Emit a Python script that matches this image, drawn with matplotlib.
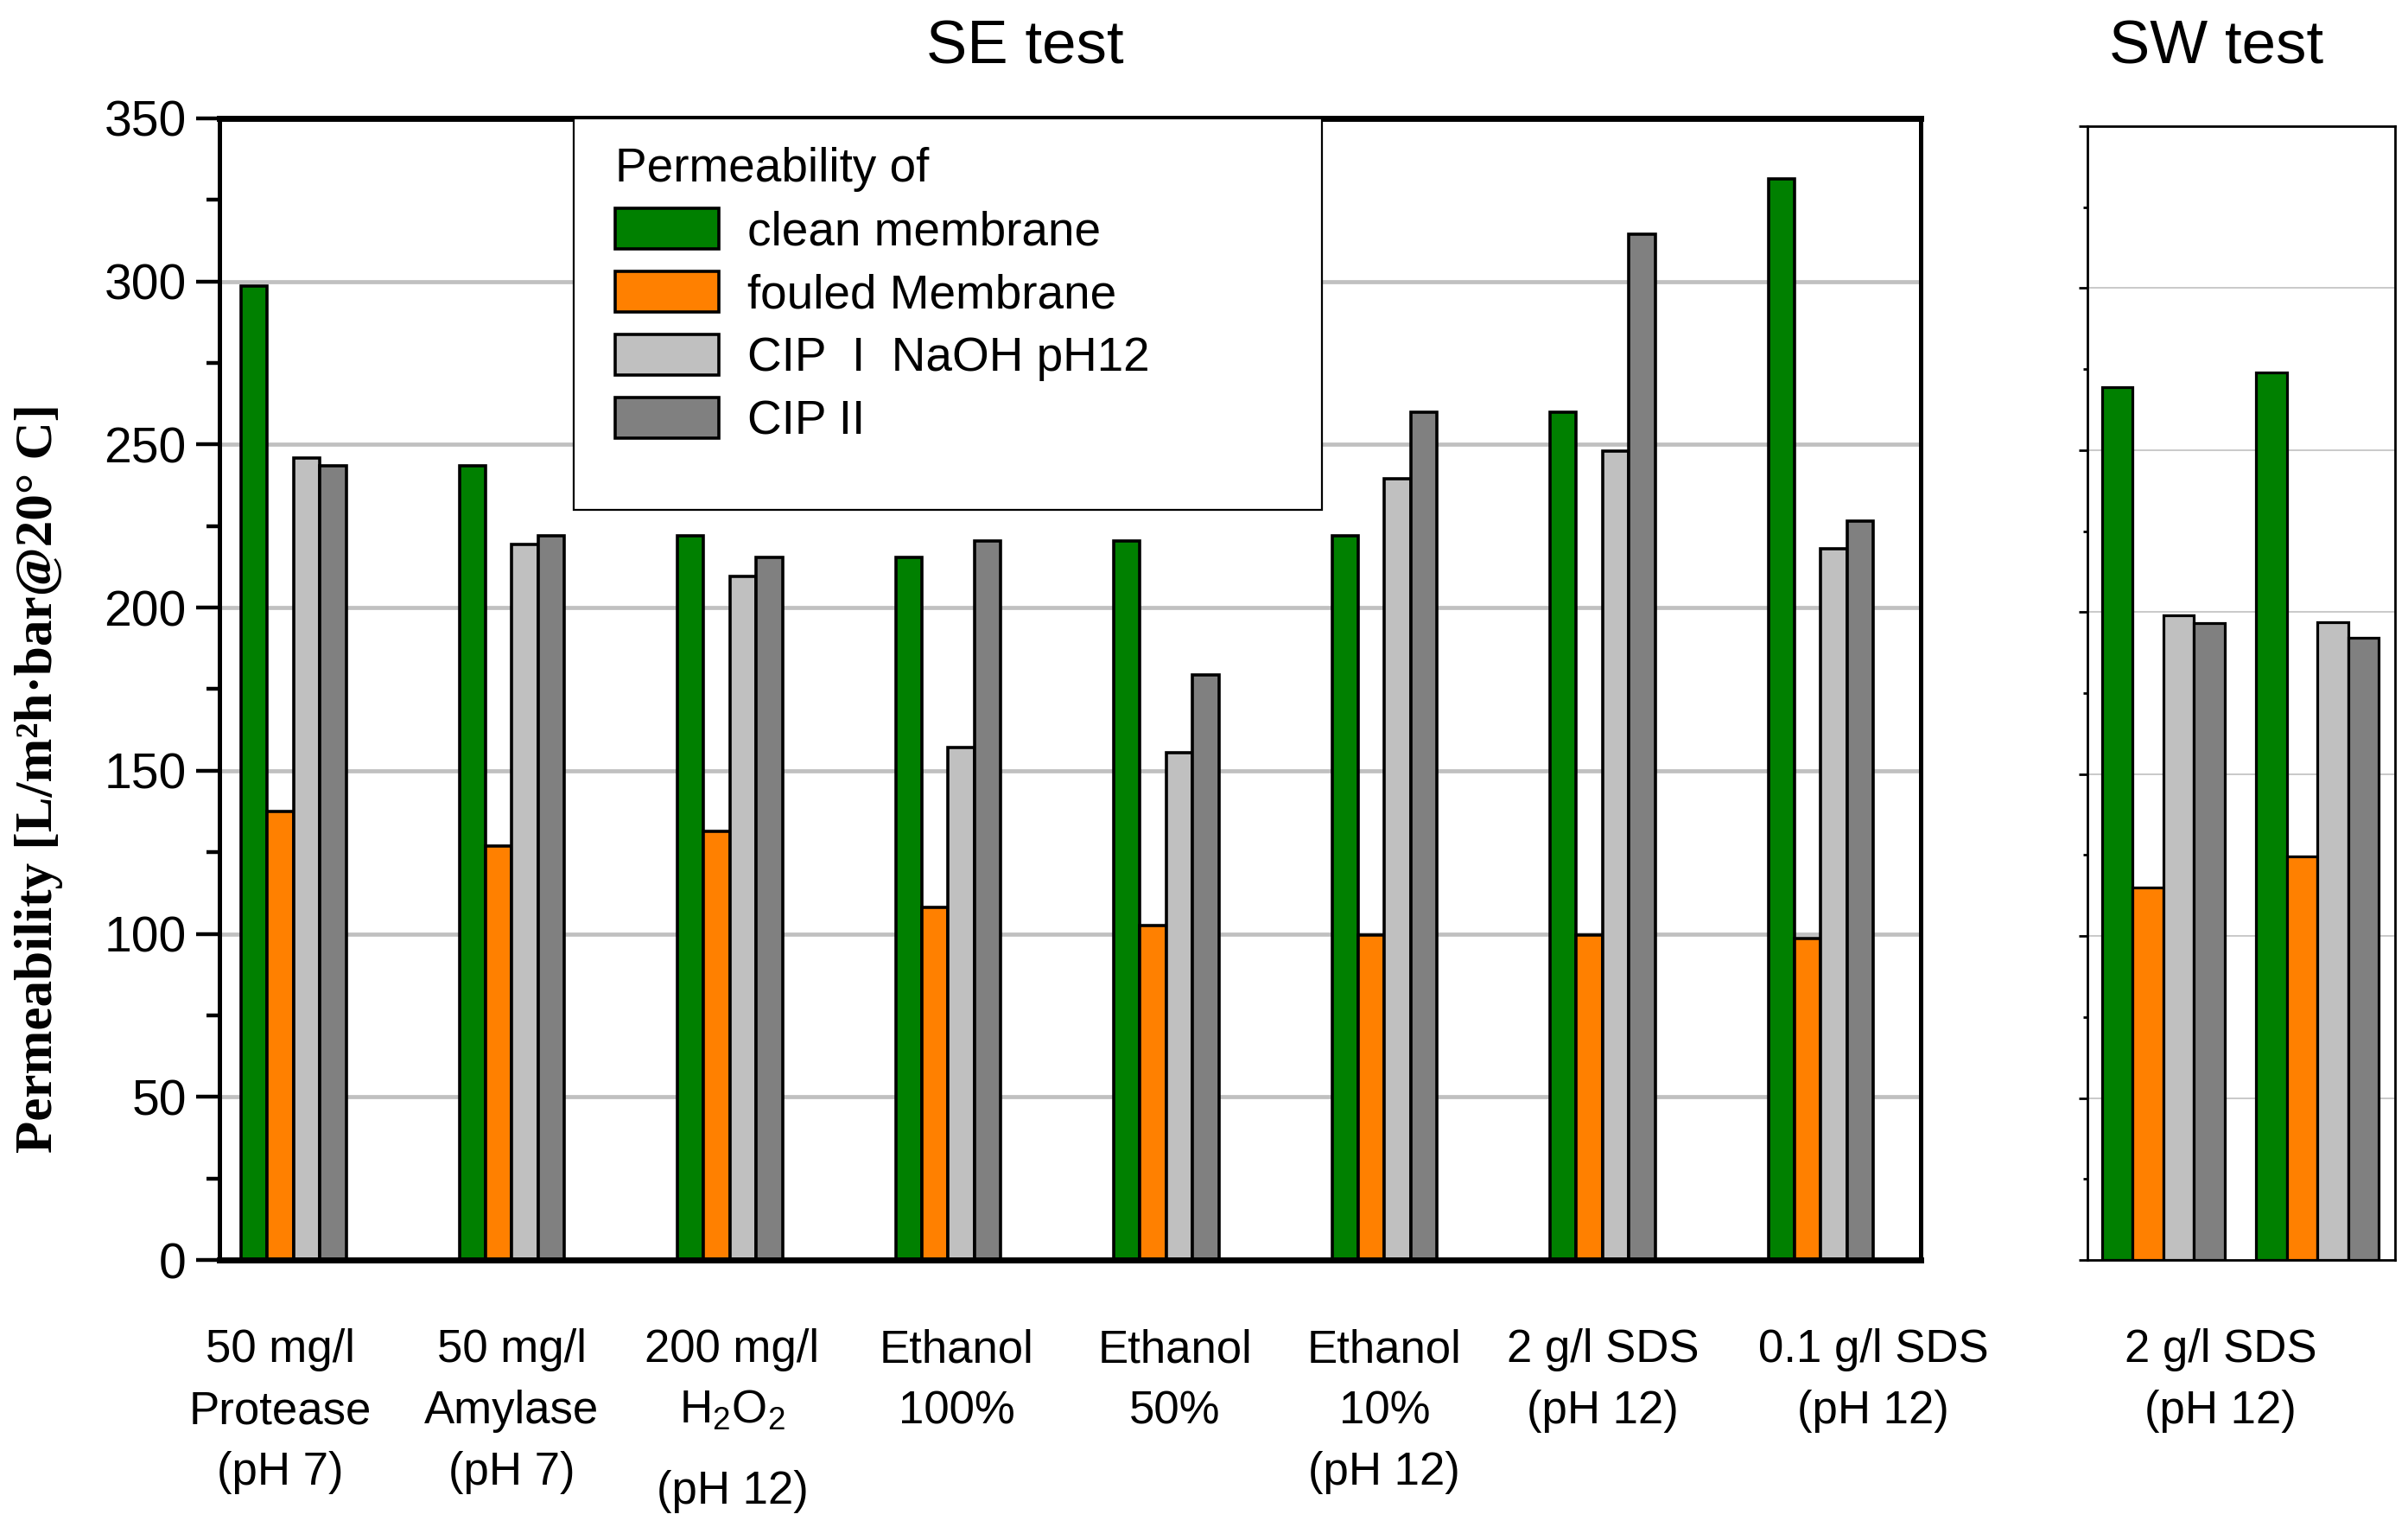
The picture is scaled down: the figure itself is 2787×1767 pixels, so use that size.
import matplotlib
matplotlib.use("Agg")
import matplotlib.pyplot as plt
import matplotlib.patches as mpatches
import matplotlib.transforms as mtrans
from matplotlib.ticker import MultipleLocator

plt.rcParams['font.family'] = ['Liberation Sans', 'DejaVu Sans']
plt.rcParams['mathtext.fontset'] = 'custom'
plt.rcParams['mathtext.rm'] = 'Liberation Sans'

# ---------------- data ----------------
categories = ["50 mg/l\nProtease\n(pH 7)",
              "50 mg/l\nAmylase\n(pH 7)",
              "200 mg/l\n$\\mathregular{H_2O_2}$\n(pH 12)",
              "Ethanol\n100%",
              "Ethanol\n50%",
              "Ethanol\n10%\n(pH 12)",
              "2 g/l SDS\n(pH 12)",
              "0.1 g/l SDS\n(pH 12)"]
series_names = ["clean membrane", "fouled Membrane", "CIP  I  NaOH pH12", "CIP II"]
clean = [298.5, 243.5, 222, 215.5, 220.5, 222, 260, 331.5]
fouled = [137.5, 127, 131.5, 108, 102.5, 99.5, 99.5, 98.5]
cip1 = [246, 219.5, 209.5, 157, 155.5, 239.5, 248, 218]
cip2 = [243.5, 222, 215.5, 220.5, 179.5, 260, 314.5, 226.5]

sw_category = "2 g/l SDS\n(pH 12)"
sw_clean = [269.5, 274]
sw_fouled = [115, 124.5]
sw_cip1 = [199, 197]
sw_cip2 = [196.5, 192]

ylabel = "Permeability [L/m\u00b2h\u00b7bar@20\u00b0 C]"
legend_title = "Permeability of"
colors = ['#008000', '#FF8000', '#C0C0C0', '#808080']

# ---------------- layout ----------------
W, H = 2787, 1767
fig = plt.figure(figsize=(W / 100, H / 100), dpi=100)

def fx(px):
    return px / W

def fy(py):
    return 1 - py / H

ax = fig.add_axes([fx(254), fy(1458), fx(2223) - fx(254), fy(137) - fy(1458)])
ax2 = fig.add_axes([fx(2416), fy(1458), fx(2772) - fx(2416), fy(146) - fy(1458)])

# main panel bars
bw = 0.1204
series = [clean, fouled, cip1, cip2]
xs = list(range(len(categories)))
containers = []
for k, vals in enumerate(series):
    c = ax.bar([x + (k - 1.5) * bw for x in xs], vals, width=bw,
               color=colors[k], edgecolor='black', linewidth=2.6,
               label=series_names[k], zorder=2)
    containers.append(c)

ax.set_xlim(-0.340, 7.458)
ax.set_ylim(0, 350)
ax.set_axisbelow(True)
ax.yaxis.set_major_locator(MultipleLocator(50))
ax.yaxis.set_minor_locator(MultipleLocator(25))
ax.grid(True, axis='y', which='major', color='#c0c0c0', linewidth=3.4)
ax.tick_params(axis='y', which='major', direction='out', length=19.5, width=3.2,
               labelsize=41, pad=8)
ax.tick_params(axis='y', which='minor', direction='out', length=10.8, width=3.2)
ax.tick_params(axis='x', which='both', bottom=False, labelbottom=False)
for side in ['top', 'bottom']:
    ax.spines[side].set_linewidth(5)
for side in ['left', 'right']:
    ax.spines[side].set_linewidth(3.6)

# SW panel bars
bw2 = 0.199
sw_series = [sw_clean, sw_fouled, sw_cip1, sw_cip2]
xs2 = list(range(len(sw_clean)))
for k, vals in enumerate(sw_series):
    ax2.bar([x + (k - 1.5) * bw2 for x in xs2], vals, width=bw2,
            color=colors[k], edgecolor='black', linewidth=2.3, zorder=2)
ax2.set_xlim(-0.493, 1.502)
ax2.set_ylim(0, 350)
ax2.set_axisbelow(True)
ax2.yaxis.set_major_locator(MultipleLocator(50))
ax2.yaxis.set_minor_locator(MultipleLocator(25))
ax2.grid(True, axis='y', which='major', color='#c0c0c0', linewidth=1.2)
ax2.tick_params(axis='y', which='major', direction='out', length=7, width=2,
                labelleft=False)
ax2.tick_params(axis='y', which='minor', direction='out', length=3.6, width=2)
ax2.tick_params(axis='x', which='both', bottom=False, labelbottom=False)
for side in ax2.spines:
    ax2.spines[side].set_linewidth(2)

# legend with its own (larger) frame
frame = mpatches.Rectangle((0.208, 0.657), 0.440, 0.343, transform=ax.transAxes,
                           facecolor='white', edgecolor='black', linewidth=1.6,
                           zorder=3)
ax.add_patch(frame)
leg = ax.legend(handles=containers, labels=series_names, loc='upper left',
                bbox_to_anchor=(fx(711.6), fy(170)), bbox_transform=fig.transFigure,
                frameon=False, fontsize=39.5, title=legend_title, title_fontsize=39.5,
                alignment='left', handlelength=2.19, handleheight=0.93,
                handletextpad=0.6, labelspacing=0.345, borderpad=0,
                borderaxespad=0)
leg.set_zorder(5)

# category labels
label_dx = [-0.06, 0.0, 0.01, 0.04, 0.04, 0.0, 0.0, 0.24]
row1 = 1576
row_step = 71
sub_extra = 22
trans = mtrans.blended_transform_factory(ax.transData, fig.transFigure)
for i, cat in enumerate(categories):
    y = row1
    prev_sub = False
    for j, line in enumerate(cat.split("\n")):
        if j > 0:
            y += row_step + (sub_extra if prev_sub else 0)
        ax.text(i + label_dx[i], fy(y), line, transform=trans, ha='center',
                va='baseline', fontsize=38, clip_on=False)
        prev_sub = '_' in line

y = row1
for j, line in enumerate(sw_category.split("\n")):
    if j > 0:
        y += row_step
    fig.text(fx(2570), fy(y), line, ha='center', va='baseline', fontsize=38)

# titles and y label
fig.text(fx(1186), fy(73), "SE test", ha='center', va='baseline', fontsize=51)
fig.text(fx(2565), fy(73), "SW test", ha='center', va='baseline', fontsize=51)
fig.text(fx(45), fy(901), ylabel, rotation=90, ha='center', va='center',
         fontfamily=['Liberation Serif', 'DejaVu Serif'], fontweight='bold',
         fontsize=44)

fig.savefig("out.png", dpi=100, facecolor='white')
